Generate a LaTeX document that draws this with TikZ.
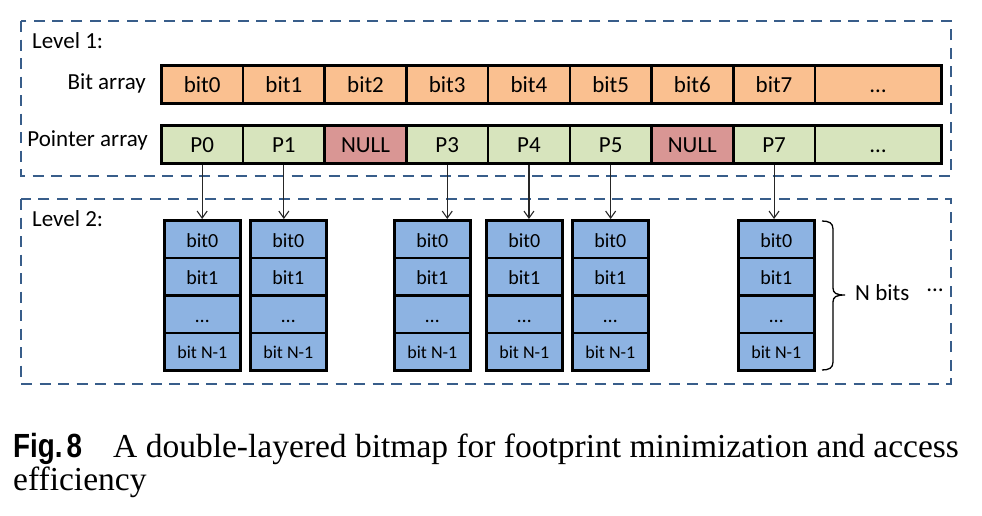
\documentclass[tikz,border=0pt]{standalone}
\usepackage{fontspec}
\setmainfont{Carlito}
\newfontfamily\capserif{Liberation Serif}
\newfontfamily\capsans[FakeStretch=0.83]{Liberation Sans}
\usetikzlibrary{arrows.meta}
\definecolor{bitorange}{HTML}{FAC090}
\definecolor{ptrgreen}{HTML}{D7E4BD}
\definecolor{nullred}{HTML}{D99694}
\definecolor{l2blue}{HTML}{8DB3E2}
\definecolor{dashblue}{HTML}{385D8A}
\begin{document}
\begin{tikzpicture}[x=1pt,y=-1pt,
  levelbox/.style={draw=dashblue, line width=2.8pt, dash pattern=on 11pt off 7.5pt},
  lonecell/.style={draw=black, line width=2.6pt, minimum width=81.7pt, minimum height=38pt,
    inner sep=0pt, anchor=north west, font=\fontsize{23}{27}\selectfont, text height=17pt, text depth=0pt},
  bitcell/.style={lonecell, fill=bitorange},
  ptrcell/.style={lonecell, fill=ptrgreen},
  nullcell/.style={lonecell, fill=nullred},
  ltwocell/.style={draw=black, line width=2.6pt, fill=l2blue, minimum width=76pt, minimum height=37.5pt,
    inner sep=0pt, anchor=north west, font=\fontsize{20}{24}\selectfont, text height=16pt, text depth=0pt},
  lastcell/.style={ltwocell, font=\fontsize{18}{22}\selectfont, text height=13pt},
  lbl/.style={inner sep=0pt, font=\fontsize{23}{27}\selectfont},
  ptr/.style={line width=1.1pt, draw=black!85, -{Straight Barb[length=7pt,width=10pt,line width=1.1pt]}}
]
\useasboundingbox (0,0) rectangle (982,515);

% level boxes
\draw[levelbox] (21,21) rectangle (951,176);
\draw[levelbox] (21,199) rectangle (951,384);
\node[lbl, anchor=base west] (lev1) at (32,48) {Level 1:};
\node[lbl, anchor=base west] (lev2) at (32,226) {Level 2:};

% bit array
\node[lbl, anchor=base east] (bitlbl) at (146,89) {Bit array};
\foreach \lab [count=\i from 0] in {bit0,bit1,bit2,bit3,bit4,bit5,bit6,bit7}
  \node[bitcell] (b\i) at ({160+81.7*\i},64) {\lab};
\node[bitcell, minimum width=126.4pt] (bdots) at (813.6,64) {…};

% pointer array
\node[lbl, anchor=base east] (ptrlbl) at (148,146) {Pointer array};
\node[ptrcell]  (p0) at (160,124) {P0};
\node[ptrcell]  (p1) at (241.7,124) {P1};
\node[nullcell] (p2) at (323.4,124) {NULL};
\node[ptrcell]  (p3) at (405.1,124) {P3};
\node[ptrcell]  (p4) at (486.8,124) {P4};
\node[ptrcell]  (p5) at (568.5,124) {P5};
\node[nullcell] (p6) at (650.2,124) {NULL};
\node[ptrcell]  (p7) at (731.9,124) {P7};
\node[ptrcell, minimum width=126.4pt] (pdots) at (813.6,124) {…};

% level 2 columns
\foreach \c/\x in {1/163,2/249,3/393,4/485,5/571,6/737}{
  \node[ltwocell] (c\c r1) at (\x,219) {bit0};
  \node[ltwocell] (c\c r2) at (\x,256.5) {bit1};
  \node[ltwocell] (c\c r3) at (\x,294) {…};
  \node[lastcell] (c\c r4) at (\x,331.5) {bit N-1};
}

% pointers
\draw[ptr] (p0.south) -- (p0.south |- c1r1.north);
\draw[ptr] (p1.south) -- (p1.south |- c2r1.north);
\draw[ptr] (p3.south) -- (p3.south |- c3r1.north);
\draw[ptr] (p4.south) -- (p4.south |- c4r1.north);
\draw[ptr] (p5.south) -- (p5.south |- c5r1.north);
\draw[ptr] (p7.south) -- (p7.south |- c6r1.north);

% brace
\draw[line width=1.3pt] (822,221) .. controls (829,221) and (833,223) .. (833,229)
  -- (833,288) .. controls (833,293) and (836,295) .. (845,295)
  .. controls (836,295) and (833,297) .. (833,302)
  -- (833,362) .. controls (833,368) and (829,370) .. (822,370);
\node[lbl, anchor=base west] (nbits) at (855,300) {N bits};
\node[lbl, anchor=base west] (moredots) at (927,291) {…};

% caption
\node[inner sep=0pt, anchor=base west] (figno) at (13,457)
  {\capsans\bfseries\fontsize{33.5}{40}\selectfont Fig.\hspace{0.12em}8};
\node[inner sep=0pt, anchor=base west] (cap1) at (113,457)
  {\capserif\fontsize{33.5}{40}\selectfont A double-layered bitmap for footprint minimization and access};
\node[inner sep=0pt, anchor=base west] (cap2) at (13,490)
  {\capserif\fontsize{33.5}{40}\selectfont efficiency};
\end{tikzpicture}
\end{document}
